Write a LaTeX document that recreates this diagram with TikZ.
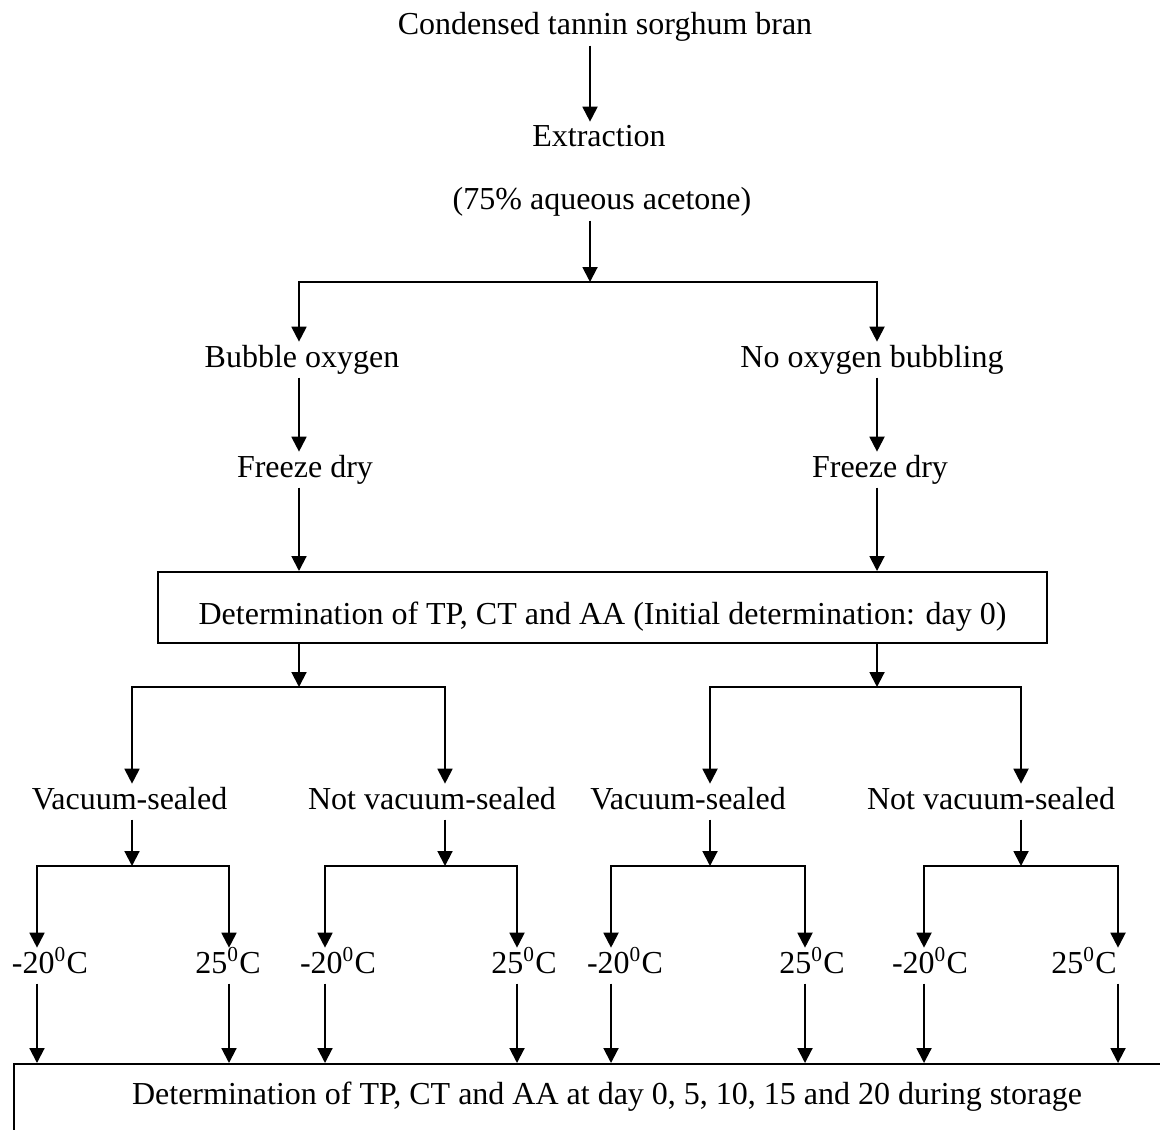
\documentclass[tikz,border=0pt]{standalone}
\usepackage{fontspec}
\setmainfont{Liberation Serif}
\usetikzlibrary{arrows.meta}
\begin{document}
\begin{tikzpicture}[x=0.375pt,y=-0.375pt]
    \tikzset{
        lbl/.style={anchor=base,inner xsep=0pt,inner ysep=1.5pt,outer sep=0pt,
            text height=0.8em,text depth=0.25em,font=\fontsize{12}{14}\selectfont},
        arr/.style={line width=0.75pt,-{Triangle[length=5.6pt,width=5.6pt]}},
        arrs/.style={line width=0.75pt,{Triangle[length=5.6pt,width=5.6pt]}-{Triangle[length=5.6pt,width=5.6pt]}},
        panel/.style={draw,line width=0.75pt,anchor=north west,inner sep=0pt,font=\fontsize{12}{14}\selectfont},}
    \useasboundingbox (0,0) rectangle (1160,1129);
    \clip (0,0) rectangle (1160,1129);
    % top part
    \node[lbl] (bran) at (605,35) {Condensed tannin sorghum bran};
    \node[lbl] (extr) at (599,147) {Extraction};
    \node[lbl] (acet) at (602,210) {(75\% aqueous acetone)};
    \node[lbl] (bub) at (302,367) {Bubble oxygen};
    \node[lbl] (nobub) at (872,367) {No oxygen bubbling};
    \node[lbl] (fdL) at (305,477) {Freeze dry};
    \node[lbl] (fdR) at (880,477) {Freeze dry};
    \node[panel,minimum width=333.4pt,text height=19.5pt,text depth=7.1pt] (init) at (157,571)
        {Determination of TP, CT and AA (Initial determination: day 0)};
    \node[panel,minimum width=444.8pt,text height=15pt,text depth=22.5pt] (store) at (13,1063)
        {Determination of TP, CT and AA at day 0, 5, 10, 15 and 20 during storage};
    \coordinate (cM) at (590,0);
    \coordinate (cL) at (299,0);
    \coordinate (cR) at (877,0);
    \coordinate (s1) at (590,282);
    \coordinate (s2L) at (299,687);
    \coordinate (s2R) at (877,687);
    \draw[arr] (cM |- bran.south) -- (cM |- extr.north);
    \draw[arr] (cM |- acet.south) -- (s1);
    \draw[arrs] (cL |- bub.north) |- (s1) -| (cR |- nobub.north);
    \draw[arr] (cL |- bub.south) -- (cL |- fdL.north);
    \draw[arr] (cR |- nobub.south) -- (cR |- fdR.north);
    \draw[arr] (cL |- fdL.south) -- (cL |- init.north);
    \draw[arr] (cR |- fdR.south) -- (cR |- init.north);
    \draw[arr] (cL |- init.south) -- (s2L);
    \draw[arr] (cR |- init.south) -- (s2R);
    % storage packaging
    \foreach \n/\g/\t/\txt in {1/132/129.5/Vacuum-sealed,2/445/432/Not vacuum-sealed,
                               3/710/688/Vacuum-sealed,4/1021/991/Not vacuum-sealed}{
        \node[lbl] (v\n) at (\t,809) {\txt};
        \coordinate (g\n) at (\g,866);
        \draw[arr] (g\n |- v\n.south) -- (g\n);
    }
    \draw[arrs] (g1 |- v1.north) |- (s2L) -| (g2 |- v2.north);
    \draw[arrs] (g3 |- v3.north) |- (s2R) -| (g4 |- v4.north);
    % storage temperature
    \foreach \n/\l/\r/\tl/\tr in {1/37/229/50/228,2/325/517/338/524,
                                  3/611/805/625/812,4/924/1118/930/1084}{
        \node[lbl] (lo\n) at (\tl,973) {-20\textsuperscript{0}C};
        \node[lbl] (hi\n) at (\tr,973) {25\textsuperscript{0}C};
        \coordinate (l\n) at (\l,0);
        \coordinate (r\n) at (\r,0);
        \draw[arrs] (l\n |- lo\n.north) |- (g\n) -| (r\n |- hi\n.north);
        \draw[arr] (l\n |- lo\n.south) -- (l\n |- store.north);
        \draw[arr] (r\n |- hi\n.south) -- (r\n |- store.north);
    }
\end{tikzpicture}
\end{document}
